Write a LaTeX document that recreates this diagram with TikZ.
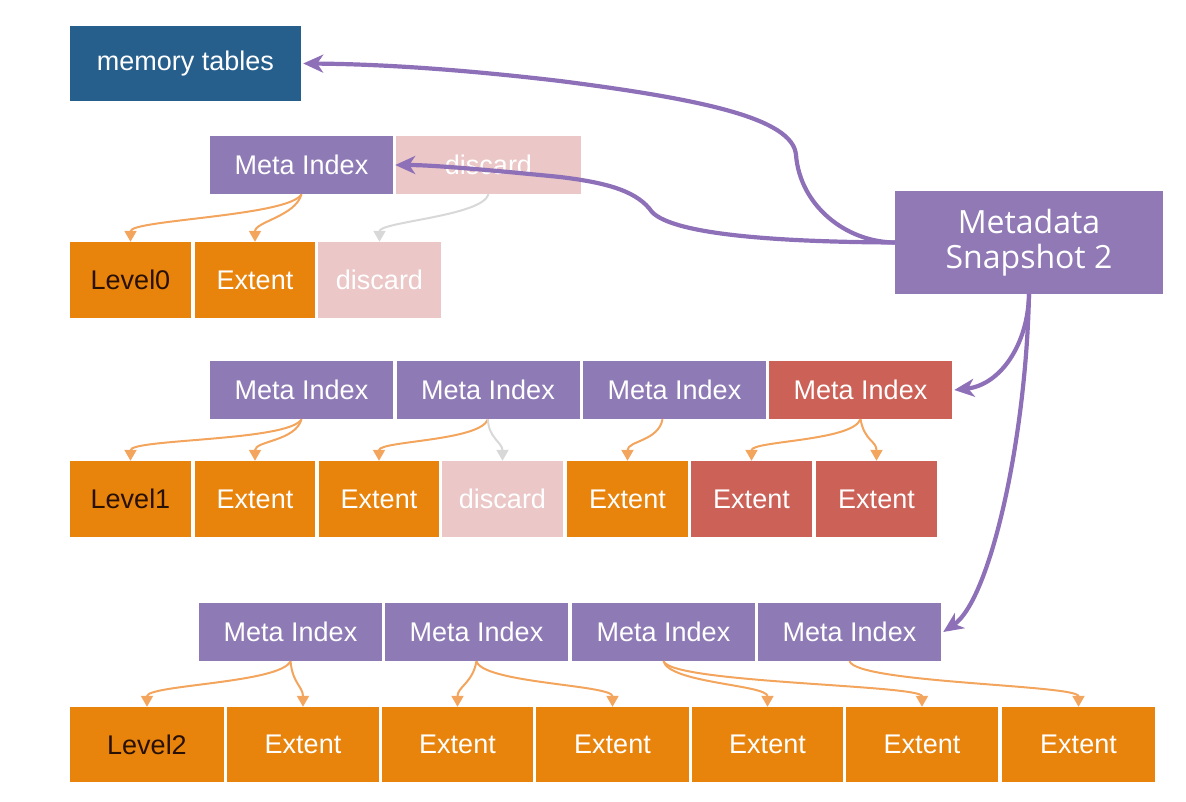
\documentclass[tikz,border=0pt]{standalone}
\usepackage{fontspec}
\setmainfont{Liberation Sans}
\newfontfamily\snapfont{Open Sans}
\usetikzlibrary{arrows.meta}

\definecolor{memblue}{RGB}{38,94,140}
\definecolor{metapurple}{RGB}{142,122,181}
\definecolor{snappurple}{RGB}{144,121,181}
\definecolor{lvorange}{RGB}{232,131,12}
\definecolor{redbox}{RGB}{204,97,87}
\definecolor{discardpink}{RGB}{235,199,199}
\definecolor{lvtext}{RGB}{40,16,2}
\definecolor{arrorange}{RGB}{243,165,93}
\definecolor{arrpurple}{RGB}{142,112,184}
\definecolor{arrgray}{RGB}{216,216,216}

\tikzset{
  box/.style={inner sep=0pt, text=white, font=\fontsize{27}{30}\selectfont},
  metabox/.style={box, fill=metapurple, minimum width=183pt, minimum height=58pt},
  lvbox/.style={box, fill=lvorange, minimum width=121pt, minimum height=76pt},
  orangearr/.style={draw=arrorange, line width=2pt, -{Triangle[width=12pt,length=11pt]}},
  grayarr/.style={orangearr, draw=arrgray},
  purplearr/.style={draw=arrpurple, line width=4.2pt, -{Stealth[length=20pt,width=18pt,inset=6pt]}}
}

\begin{document}
\begin{tikzpicture}[x=1pt,y=1pt]
\useasboundingbox (0,0) rectangle (1186,-802);

\node[box, fill=memblue, minimum width=231pt, minimum height=75pt] (mem) at (185.5,-63.5) {memory tables\hspace{12pt}};
\node[box, fill=snappurple, minimum width=268pt, minimum height=103pt, align=center,
      font=\snapfont\fontsize{32}{35}\selectfont] (snap) at (1029,-242.5) {Metadata\\Snapshot 2};

% level 0
\node[metabox] (mi0a) at (301.5,-165) {Meta Index};
\node[metabox, fill=discardpink, minimum width=185pt] (mi0b) at (488.5,-165) {discard};
\node[lvbox, text=lvtext] (lv0) at (130.5,-280) {Level0};
\node[lvbox, minimum width=120pt] (lv0a) at (255,-280) {Extent};
\node[lvbox, fill=discardpink, minimum width=123pt] (lv0b) at (379.5,-280) {discard};

% level 1
\node[metabox] (mi1a) at (301.5,-390) {Meta Index};
\node[metabox] (mi1b) at (488,-390) {Meta Index};
\node[metabox] (mi1c) at (674.5,-390) {Meta Index};
\node[metabox, fill=redbox] (mi1d) at (860.5,-390) {Meta Index};
\node[lvbox, text=lvtext] (lv1) at (130.5,-499) {Level1};
\node[lvbox, minimum width=120pt] (lv1a) at (255,-499) {Extent};
\node[lvbox, minimum width=120pt] (lv1b) at (379,-499) {Extent};
\node[lvbox, fill=discardpink] (lv1c) at (502.5,-499) {discard};
\node[lvbox] (lv1d) at (627.5,-499) {Extent};
\node[lvbox, fill=redbox] (lv1e) at (751.5,-499) {Extent};
\node[lvbox, fill=redbox] (lv1f) at (876.5,-499) {Extent};

% level 2
\node[metabox] (mi2a) at (290.5,-632) {Meta Index};
\node[metabox] (mi2b) at (476.5,-632) {Meta Index};
\node[metabox] (mi2c) at (663.5,-632) {Meta Index};
\node[metabox] (mi2d) at (849.5,-632) {Meta Index};
\node[lvbox, text=lvtext, minimum width=154pt, minimum height=75pt] (lv2) at (147,-744.5) {Level2};
\node[lvbox, minimum width=152pt, minimum height=75pt] (lv2a) at (303,-744.5) {Extent};
\node[lvbox, minimum width=151pt, minimum height=75pt] (lv2b) at (457.5,-744.5) {Extent};
\node[lvbox, minimum width=153pt, minimum height=75pt] (lv2c) at (612.5,-744.5) {Extent};
\node[lvbox, minimum width=151pt, minimum height=75pt] (lv2d) at (767.5,-744.5) {Extent};
\node[lvbox, minimum width=152pt, minimum height=75pt] (lv2e) at (922,-744.5) {Extent};
\node[lvbox, minimum width=153pt, minimum height=75pt] (lv2f) at (1078.5,-744.5) {Extent};

% index -> extent
\draw[orangearr] (mi0a.south) .. controls +(-12,-22) and +(0,22) .. (lv0.north);
\draw[orangearr] (mi0a.south) .. controls +(-6,-22) and +(0,20) .. (lv0a.north);
\draw[grayarr] (mi0b.south) .. controls +(-6,-22) and +(0,20) .. (lv0b.north);

\draw[orangearr] (mi1a.south) .. controls +(-12,-22) and +(0,22) .. (lv1.north);
\draw[orangearr] (mi1a.south) .. controls +(-6,-22) and +(0,20) .. (lv1a.north);
\draw[orangearr] (mi1b.south) .. controls +(-8,-22) and +(0,20) .. (lv1b.north);
\draw[grayarr] (mi1b.south) .. controls +(0,-18) and +(0,18) .. (lv1c.north);
\draw[orangearr] ([xshift=-12pt]mi1c.south) .. controls +(-4,-22) and +(0,20) .. (lv1d.north);
\draw[orangearr] (mi1d.south) .. controls +(-8,-22) and +(0,20) .. (lv1e.north);
\draw[orangearr] (mi1d.south) .. controls +(4,-22) and +(0,20) .. (lv1f.north);

\draw[orangearr] (mi2a.south) .. controls +(-10,-22) and +(0,22) .. (lv2.north);
\draw[orangearr] (mi2a.south) .. controls +(2,-22) and +(0,20) .. (lv2a.north);
\draw[orangearr] (mi2b.south) .. controls +(-4,-22) and +(0,20) .. (lv2b.north);
\draw[orangearr] (mi2b.south) .. controls +(6,-22) and +(0,22) .. (lv2c.north);
\draw[orangearr] (mi2c.south) .. controls +(6,-22) and +(0,22) .. (lv2d.north);
\draw[orangearr] (mi2c.south) .. controls +(8,-22) and +(0,22) .. (lv2e.north);
\draw[orangearr] (mi2d.south) .. controls +(8,-22) and +(0,22) .. (lv2f.north);

% snapshot -> tables and indexes
\draw[purplearr] (snap.west) .. controls (845,-242) and (800,-205) .. (796,-155)
  .. controls (793,-118) and (700,-99) .. (560,-81)
  .. controls (450,-68) and (370,-64) .. ([xshift=2pt]mem.east);
\draw[purplearr] (snap.west) .. controls (790,-242) and (675,-236) .. (652,-212)
  .. controls (638,-192) and (610,-183) .. (560,-177)
  .. controls (480,-169) and (430,-165) .. ([xshift=2pt]mi0a.east);
\draw[purplearr] (snap.south) .. controls (1028,-345) and (1000,-385) .. ([xshift=2pt]mi1d.east);
\draw[purplearr] (snap.south) .. controls (1026,-440) and (990,-600) .. ([xshift=2pt]mi2d.east);
\end{tikzpicture}
\end{document}
